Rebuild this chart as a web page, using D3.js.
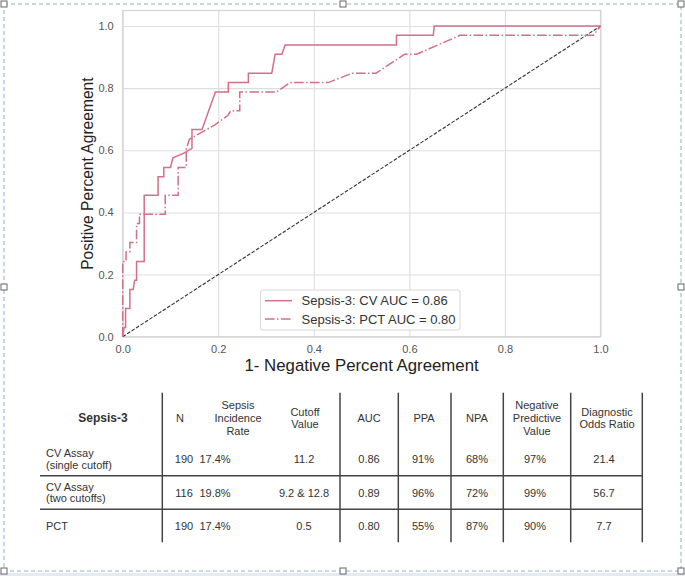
<!DOCTYPE html>
<html><head><meta charset="utf-8">
<script src="https://cdn.jsdelivr.net/npm/d3@7"></script>
<style>
html,body{margin:0;padding:0;background:#fff;}
svg{display:block;font-family:"Liberation Sans",Arial,sans-serif;}
</style></head>
<body><svg id="chart" width="685" height="576"></svg>
<script>
// ---- data ----
const cvFpr = [0,0.003,0.006,0.006,0.015,0.015,0.022,0.025,0.029,0.029,0.045,0.045,0.074,0.074,0.086,0.086,0.100,0.105,0.127,0.145,0.145,0.166,0.180,0.194,0.221,0.221,0.263,0.263,0.312,0.319,0.333,0.340,0.573,0.573,0.650,0.652,1.0];
const cvTpr = [0,0.030,0.030,0.091,0.091,0.152,0.152,0.182,0.182,0.242,0.242,0.455,0.455,0.515,0.515,0.545,0.545,0.576,0.590,0.606,0.667,0.667,0.727,0.788,0.788,0.818,0.818,0.848,0.848,0.909,0.909,0.939,0.939,0.970,0.970,1.0,1.0];
const pctFpr = [0,0,0.007,0.007,0.015,0.015,0.029,0.029,0.035,0.035,0.089,0.089,0.116,0.116,0.133,0.133,0.140,0.193,0.220,0.226,0.245,0.245,0.322,0.350,0.430,0.480,0.530,0.590,0.615,0.706,0.985,1.0];
const pctTpr = [0,0.242,0.242,0.273,0.273,0.303,0.303,0.364,0.364,0.394,0.394,0.455,0.455,0.545,0.545,0.606,0.636,0.682,0.712,0.727,0.727,0.788,0.788,0.818,0.818,0.848,0.848,0.909,0.909,0.970,0.970,1.0];
const chanceLine = [0, 1];
const xTicks = [0, 0.2, 0.4, 0.6, 0.8, 1.0];
const yTicks = [0, 0.2, 0.4, 0.6, 0.8, 1.0];
const legendLabels = ["Sepsis-3: CV AUC = 0.86", "Sepsis-3: PCT AUC = 0.80"];
const xTitle = "1- Negative Percent Agreement";
const yTitle = "Positive Percent Agreement";

const tableHeader = [["Sepsis-3"], ["N"], ["Sepsis","Incidence","Rate"], ["Cutoff","Value"], ["AUC"], ["PPA"], ["NPA"], ["Negative","Predictive","Value"], ["Diagnostic","Odds Ratio"]];
const rowLabels = [["CV Assay","(single cutoff)"], ["CV Assay","(two cutoffs)"], ["PCT"]];
const colN = ["190","116","190"];
const colIncidence = ["17.4%","19.8%","17.4%"];
const colCutoff = ["11.2","9.2 & 12.8","0.5"];
const colAUC = ["0.86","0.89","0.80"];
const colPPA = ["91%","96%","55%"];
const colNPA = ["68%","72%","87%"];
const colNPV = ["97%","99%","90%"];
const colDOR = ["21.4","56.7","7.7"];

// ---- drawing ----
const svg = d3.select("#chart");
const lineColor = "#d2708a";

// page frame
svg.append("rect").attr("x",0).attr("y",573).attr("width",685).attr("height",3).attr("fill","#e3eaf1");
svg.append("rect").attr("x",4).attr("y",4).attr("width",677).attr("height",567)
  .attr("fill","none").attr("stroke","#8fb0cf").attr("stroke-width",1).attr("stroke-dasharray","4,3");
[[4,4],[343,4],[681,4],[4,287],[681,287],[4,571],[343,571],[681,571]].forEach(p=>{
  svg.append("rect").attr("x",p[0]-3).attr("y",p[1]-3).attr("width",6).attr("height",6)
    .attr("fill","#fff").attr("stroke","#666").attr("stroke-width",1);
});

const x = d3.scaleLinear().domain([0,1]).range([122.7,600.5]);
const y = d3.scaleLinear().domain([0,1.05]).range([336.7,10.5]);

const g = svg.append("g");
// grid + ticks via axes
const xAxis = g.append("g").attr("transform",`translate(0,${y(0)})`)
  .call(d3.axisBottom(x).tickValues(xTicks).tickFormat(d3.format(".1f")).tickSize(-(y(0)-y(1.05))).tickPadding(9));
const yAxis = g.append("g").attr("transform",`translate(${x(0)},0)`)
  .call(d3.axisLeft(y).tickValues(yTicks).tickFormat(d3.format(".1f")).tickSize(-(x(1)-x(0))).tickPadding(9));
[xAxis,yAxis].forEach(a=>{
  a.select(".domain").remove();
  a.selectAll(".tick line").attr("stroke","#dedede").attr("stroke-width",1.1);
  a.selectAll(".tick text").attr("fill","#555").style("font-size","11px").style("font-family","'Liberation Sans',Arial,sans-serif");
});
// frame
g.append("rect").attr("x",x(0)).attr("y",y(1.05)).attr("width",x(1)-x(0)).attr("height",y(0)-y(1.05))
  .attr("fill","none").attr("stroke","#d4d4d4").attr("stroke-width",1.2);

const line = d3.line().x(d=>x(d[0])).y(d=>y(d[1]));
// chance diagonal
g.append("path").datum(chanceLine.map(v=>[v,v])).attr("d",line)
  .attr("fill","none").attr("stroke","#333").attr("stroke-width",1.1).attr("stroke-dasharray","3.7,1.6");
// PCT
g.append("path").datum(pctFpr.map((v,i)=>[v,pctTpr[i]])).attr("d",line)
  .attr("fill","none").attr("stroke",lineColor).attr("stroke-width",1.5).attr("stroke-dasharray","9.6,2.4,1.5,2.4");
// CV
g.append("path").datum(cvFpr.map((v,i)=>[v,cvTpr[i]])).attr("d",line)
  .attr("fill","none").attr("stroke",lineColor).attr("stroke-width",1.5);

// legend
const lg = svg.append("g");
lg.append("rect").attr("x",260.5).attr("y",290).attr("width",199.5).attr("height",40).attr("rx",2)
  .attr("fill","#fff").attr("fill-opacity",0.9).attr("stroke","#d8d8d8");
const dashes = [null,"9.6,2.4,1.5,2.4"];
legendLabels.forEach((t,i)=>{
  const yy = 300.7 + i*18.3;
  lg.append("line").attr("x1",265).attr("x2",292).attr("y1",yy).attr("y2",yy)
    .attr("stroke",lineColor).attr("stroke-width",1.5).attr("stroke-dasharray",dashes[i]);
  lg.append("text").attr("x",301.5).attr("y",yy+4.6).attr("fill","#333").style("font-size","13px").text(t);
});

// axis titles
svg.append("text").attr("x",(x(0)+x(1))/2).attr("y",371).attr("text-anchor","middle")
  .attr("fill","#222").style("font-size","16.8px").text(xTitle);
svg.append("text").attr("transform",`translate(93,${(y(0)+y(1.05))/2}) rotate(-90)`).attr("text-anchor","middle")
  .attr("fill","#222").style("font-size","15.6px").text(yTitle);

// ---- table ----
const tg = svg.append("g").style("font-size","11px").attr("fill","#333");
const vLines = [162.3,340,398.3,451,503.3,570.7,642.3];
vLines.forEach(vx=>tg.append("line").attr("x1",vx).attr("x2",vx).attr("y1",392.7).attr("y2",542.3)
  .attr("stroke","#444").attr("stroke-width",1.5));
[475.7,509.3].forEach(hy=>tg.append("line").attr("x1",40).attr("x2",642.3).attr("y1",hy).attr("y2",hy)
  .attr("stroke","#444").attr("stroke-width",1.5));

const headCx = [103,180,238,305,369,424,477,537,607];
const headCy = 418;
tableHeader.forEach((lines,i)=>{
  const n = lines.length, lh = 12.6;
  lines.forEach((t,j)=>{
    tg.append("text").attr("x",headCx[i]).attr("y",headCy + (j-(n-1)/2)*lh + 4)
      .attr("text-anchor","middle").style("font-weight",i===0?"bold":null)
      .style("font-size",i===0?"12px":"11px").text(t);
  });
});
const rowCy = [459,492.7,525.7];
rowLabels.forEach((lines,r)=>{
  const n = lines.length, lh = 11.5;
  lines.forEach((t,j)=>{
    tg.append("text").attr("x",46).attr("y",rowCy[r] + (j-(n-1)/2)*lh + 4).text(t);
  });
});
const cols = [colN,colIncidence,colCutoff,colAUC,colPPA,colNPA,colNPV,colDOR];
const colCx = [184,215,304,369,423,477,535,604];
cols.forEach((c,ci)=>c.forEach((t,r)=>{
  tg.append("text").attr("x",colCx[ci]).attr("y",rowCy[r]+4).attr("text-anchor","middle").text(t);
}));
</script></body></html>
